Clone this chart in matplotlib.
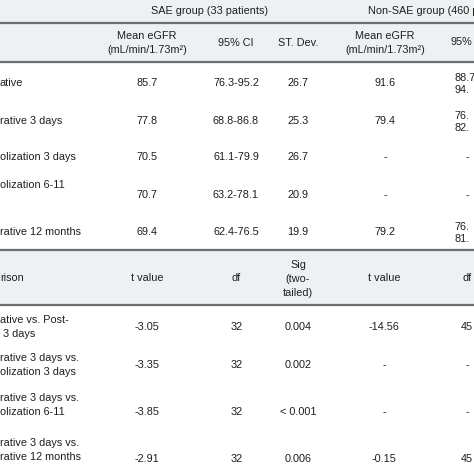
import matplotlib
matplotlib.use("Agg")
import matplotlib.pyplot as plt
from matplotlib.patches import Rectangle

# ---------------- data ----------------
group_titles = ["SAE group (33 patients)", "Non-SAE group (460 pa"]
col_headers = ["Mean eGFR\n(mL/min/1.73m²)", "95% CI", "ST. Dev.", "Mean eGFR\n(mL/min/1.73m²)", "95%"]

row_labels = ["ative", "rative 3 days", "olization 3 days", "olization 6-11", "rative 12 months"]
sae_mean = ["85.7", "77.8", "70.5", "70.7", "69.4"]
sae_ci = ["76.3-95.2", "68.8-86.8", "61.1-79.9", "63.2-78.1", "62.4-76.5"]
sae_sd = ["26.7", "25.3", "26.7", "20.9", "19.9"]
non_mean = ["91.6", "79.4", "-", "-", "79.2"]
non_ci = ["88.7\n94.", "76.\n82.", "-", "-", "76.\n81."]

cmp_headers = ["rison", "t value", "df", "Sig\n(two-\ntailed)", "t value", "df"]
cmp_labels = ["ative vs. Post-\n 3 days", "rative 3 days vs.\nolization 3 days",
              "rative 3 days vs.\nolization 6-11", "rative 3 days vs.\nrative 12 months"]
sae_t = ["-3.05", "-3.35", "-3.85", "-2.91"]
sae_df = ["32", "32", "32", "32"]
sae_sig = ["0.004", "0.002", "< 0.001", "0.006"]
non_t = ["-14.56", "-", "-", "-0.15"]
non_df = ["45", "-", "-", "45"]

# ---------------- layout ----------------
W = H = 474
fig = plt.figure(figsize=(4.74, 4.74), dpi=100)
ax = fig.add_axes([0, 0, 1, 1])
ax.set_xlim(0, W)
ax.set_ylim(H, 0)
ax.axis("off")

FONT = ["Liberation Sans", "DejaVu Sans"]
TXT = "#1e1e1e"
BG = "#eef1f3"
LINE = "#6e6e6e"
FS = 7.8

def t(x, y, s, ha="center", ls=1.4, **kw):
    ax.text(x, y, s, ha=ha, va="center", fontsize=FS, color=TXT, family=FONT,
            linespacing=ls, **kw)

# header backgrounds
ax.add_patch(Rectangle((0, 0), W, 62, color=BG, zorder=0))
ax.add_patch(Rectangle((0, 250), W, 55, color=BG, zorder=0))
for y in (22.5, 62, 250, 305):
    ax.plot([0, W], [y, y], color=LINE, lw=1.6, solid_capstyle="butt")

# column positions
xc = [147, 236, 298, 385]
x_last = 451

# group titles
t(210, 11, group_titles[0])
t(368, 11, group_titles[1], ha="left")

# column headers
for x, h in zip(xc, col_headers[:4]):
    t(x, 42.5, h, ls=1.5)
t(x_last, 42, col_headers[4], ha="left")

# data rows
row_y = [83, 121, 157, 195, 232]
label_y = [83, 121, 157, 185, 232]
for i in range(5):
    t(0, label_y[i], row_labels[i], ha="left")
    t(xc[0], row_y[i], sae_mean[i])
    t(xc[1], row_y[i], sae_ci[i])
    t(xc[2], row_y[i], sae_sd[i])
    t(xc[3], row_y[i], non_mean[i])
    if non_ci[i] == "-":
        t(467, row_y[i], non_ci[i])
    else:
        t(455, row_y[i] + 1, non_ci[i], ha="left", ls=1.3)

# comparison header
t(0, 278, cmp_headers[0], ha="left")
t(147, 278, cmp_headers[1])
t(236, 278, cmp_headers[2])
t(298, 279, cmp_headers[3], ls=1.5)
t(384, 278, cmp_headers[4])
t(467, 278, cmp_headers[5])

cmp_val_y = [327, 365, 412, 459]
cmp_lab_y = [327, 365, 405, 450]
for i in range(4):
    t(0, cmp_lab_y[i], cmp_labels[i], ha="left")
    t(147, cmp_val_y[i], sae_t[i])
    t(237, cmp_val_y[i], sae_df[i])
    t(298, cmp_val_y[i], sae_sig[i])
    t(384, cmp_val_y[i], non_t[i])
    t(467, cmp_val_y[i], non_df[i])

fig.savefig("out.png", dpi=100, facecolor="white")
